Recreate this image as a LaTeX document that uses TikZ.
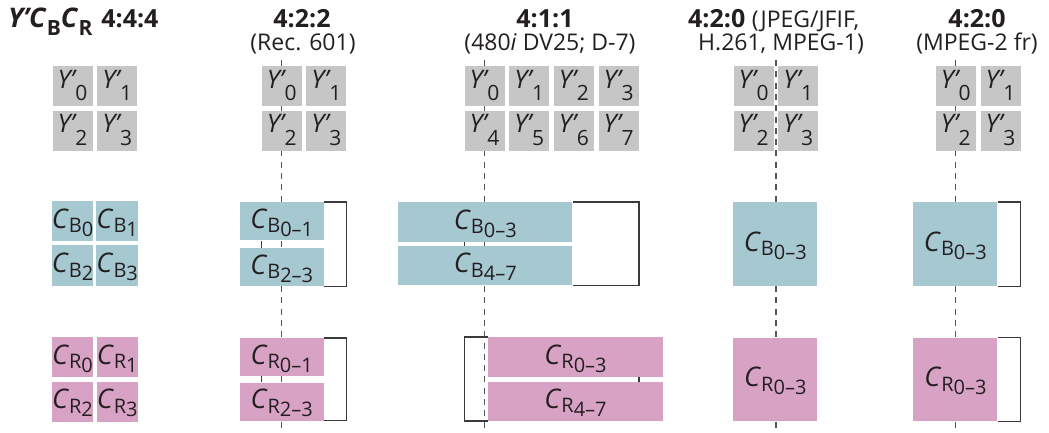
\documentclass[tikz,border=0pt]{standalone}
\usepackage{fontspec}
\setmainfont{Open Sans}
\definecolor{ink}{HTML}{231F20}
\definecolor{lumgray}{HTML}{C6C6C6}
\definecolor{cbblue}{HTML}{A6C8D1}
\definecolor{crpink}{HTML}{D8A2C4}
\definecolor{rule}{HTML}{3A3A3A}
\definecolor{guidegray}{HTML}{555555}
% straight prime taken from the italic face
\newcommand\primemark{\char39\relax}
% luma sample label: Y' with a deep subscript
\newcommand\lumlabel[1]{\textit{Y\primemark}\kern-1.5pt\raisebox{-12.5pt}{\fontsize{21}{21}\selectfont #1}}
% chroma sample label: C with component letter and sample range
\newcommand\chrlabel[2]{{\fontsize{27}{27}\selectfont\textit{C}}\raisebox{-4.5pt}{\fontsize{20}{20}\selectfont #1}\raisebox{-8pt}{\fontsize{20}{20}\selectfont #2}}
\begin{document}
\begin{tikzpicture}[x=1pt,y=-1pt,
  lumbox/.style={fill=lumgray, minimum width=40pt, minimum height=40pt,
    inner sep=0pt, text height=17pt, text depth=13pt, text=ink,
    font=\fontsize{25.5}{25.5}\selectfont},
  chrbox/.style={inner sep=0pt, text height=20pt, text depth=6pt, text=ink},
  cbbox/.style={chrbox, fill=cbblue},
  crbox/.style={chrbox, fill=crpink},
  guide/.style={draw=guidegray, line width=1.2pt, dash pattern=on 6pt off 5.3pt},
  bracket/.style={draw=rule, line width=1.4pt},
  hdbold/.style={text=ink, inner sep=0pt, font=\fontsize{25}{25}\selectfont\bfseries},
  hdnote/.style={text=ink, inner sep=0pt, font=\fontsize{23}{23}\selectfont}]
\useasboundingbox (0,0) rectangle (1049,432);

% ---------- headings ----------
\node[hdbold, anchor=base west] (h444) at (8,27)
  {{\fontsize{27}{27}\selectfont\textit{Y\primemark C}}\raisebox{-8.5pt}{\fontsize{21}{21}\selectfont B}{\fontsize{27}{27}\selectfont\textit{C}}\raisebox{-8.5pt}{\fontsize{21}{21}\selectfont R}\hspace{9pt}4:4:4};
\node[hdbold, anchor=base] (h422) at (302,27) {4:2:2};
\node[hdnote, anchor=base] (n422) at (303,50) {(Rec. 601)};
\node[hdbold, anchor=base] (h411) at (545,27) {4:1:1};
\node[hdnote, anchor=base] (n411) at (550,50) {(480\textit{i} DV25; D-7)};
\node[hdbold, anchor=base west] (h420) at (688,27) {4:2:0 {\mdseries\fontsize{23}{23}\selectfont (JPEG/JFIF,}};
\node[hdnote, anchor=base] (n420) at (781,50) {H.261, MPEG-1)};
\node[hdbold, anchor=base] (h420m) at (977,27) {4:2:0};
\node[hdnote, anchor=base] (n420m) at (977,50) {(MPEG-2 fr)};

% ---------- siting guides (drawn first, behind the samples) ----------
\foreach \gx/\gn in {281.7/g422, 484.5/g411, 776/g420, 955.8/g420m} {
  \coordinate (\gn-top) at (\gx,60);
  \coordinate (\gn-bot) at (\gx,432);
  \draw[guide] (\gn-top) -- (\gn-bot);
}

% ---------- luma samples ----------
\def\pitch{44.7}
\foreach \x/\pre in {72.5/y444, 281.7/y422, 753.6/y420, 955.8/y420m} {
  \node[lumbox] (\pre-0) at (\x,86) {\lumlabel{0}};
  \node[lumbox] (\pre-1) at (\x+\pitch,86) {\lumlabel{1}};
  \node[lumbox] (\pre-2) at (\x,86+\pitch) {\lumlabel{2}};
  \node[lumbox] (\pre-3) at (\x+\pitch,86+\pitch) {\lumlabel{3}};
}
\foreach \i in {0,1,2,3} {
  \node[lumbox] (y411-\i) at (484.5+\i*\pitch,86) {\lumlabel{\i}};
  \pgfmathtruncatemacro\j{\i+4}
  \node[lumbox] (y411-\j) at (484.5+\i*\pitch,86+\pitch) {\lumlabel{\j}};
}

% ---------- 4:4:4 chroma ----------
\foreach \i/\cx/\cy in {0/72.5/0, 1/117.2/0, 2/72.5/44.7, 3/117.2/44.7} {
  \node[cbbox, minimum width=40pt, minimum height=40.5pt] (cb444-\i) at (\cx,221+\cy) {\chrlabel{B}{\i}};
  \node[crbox, minimum width=40pt, minimum height=40pt] (cr444-\i) at (\cx,357+\cy) {\chrlabel{R}{\i}};
}

% ---------- 4:2:2 chroma ----------
\node[cbbox, minimum width=83.7pt, minimum height=38pt] (cb422a) at (281.7,221.3) {\chrlabel{B}{0--1}};
\node[cbbox, minimum width=83.7pt, minimum height=38pt] (cb422b) at (281.7,267)   {\chrlabel{B}{2--3}};
\node[crbox, minimum width=83.7pt, minimum height=38pt] (cr422a) at (281.7,357)   {\chrlabel{R}{0--1}};
\node[crbox, minimum width=83.7pt, minimum height=38pt] (cr422b) at (281.7,401.5) {\chrlabel{R}{2--3}};
\draw[bracket] (cb422a.north east) -- (cb422a.north east -| y422-1.east)
  -- (cb422b.south east -| y422-1.east) -- (cb422b.south east);
\draw[bracket] (cr422a.north east) -- (cr422a.north east -| y422-1.east)
  -- (cr422b.south east -| y422-1.east) -- (cr422b.south east);
\draw[bracket] (cb422a.south -| y422-0.west) -- (cb422b.north -| y422-0.west);
\draw[bracket] (cr422a.south -| y422-0.west) -- (cr422b.north -| y422-0.west);

% ---------- 4:1:1 chroma ----------
\node[cbbox, minimum width=174pt, minimum height=39.4pt] (cb411a) at (485.3,222)   {\chrlabel{B}{0--3}};
\node[cbbox, minimum width=174pt, minimum height=39pt]   (cb411b) at (485.3,265.8) {\chrlabel{B}{4--7}};
\node[crbox, minimum width=174.4pt, minimum height=39.4pt] (cr411a) at (575.5,357)   {\chrlabel{R}{0--3}};
\node[crbox, minimum width=174.4pt, minimum height=38.7pt] (cr411b) at (575.5,401.4) {\chrlabel{R}{4--7}};
\draw[bracket] (cb411a.north east) -- (cb411a.north east -| y411-3.east)
  -- (cb411b.south east -| y411-3.east) -- (cb411b.south east);
\draw[bracket] (cr411a.north west) -- (cr411a.north west -| y411-0.west)
  -- (cr411b.south west -| y411-0.west) -- (cr411b.south west);
\draw[bracket] (cb411a.south -| y411-0.west) -- (cb411b.north -| y411-0.west);
\draw[bracket] (cr411a.south -| y411-3.east) -- (cr411b.north -| y411-3.east);

% ---------- 4:2:0 chroma ----------
\node[cbbox, minimum width=84pt, minimum height=84pt] (cb420) at (775.3,244.2) {\chrlabel{B}{0--3}};
\node[crbox, minimum width=84pt, minimum height=83.6pt] (cr420) at (775.3,379.5) {\chrlabel{R}{0--3}};
\node[cbbox, minimum width=84pt, minimum height=84pt] (cb420m) at (955.4,244.2) {\chrlabel{B}{0--3}};
\node[crbox, minimum width=84pt, minimum height=83.6pt] (cr420m) at (955.4,379.5) {\chrlabel{R}{0--3}};
\draw[bracket] (cb420m.north east) -- (cb420m.north east -| y420m-1.east)
  -- (cb420m.south east -| y420m-1.east) -- (cb420m.south east);
\draw[bracket] (cr420m.north east) -- (cr420m.north east -| y420m-1.east)
  -- (cr420m.south east -| y420m-1.east) -- (cr420m.south east);
\end{tikzpicture}
\end{document}
